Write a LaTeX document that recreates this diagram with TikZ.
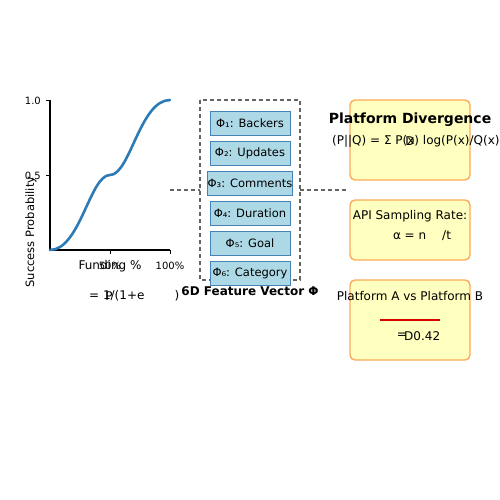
\documentclass[tikz,border=0pt]{standalone}
\usepackage{fontspec}
\setmainfont{DejaVu Sans}
\definecolor{curveblue}{RGB}{44,123,182}
\definecolor{featfill}{RGB}{173,216,230}
\definecolor{featedge}{RGB}{70,130,180}
\definecolor{boxfill}{RGB}{255,255,192}
\definecolor{boxedge}{RGB}{250,170,90}
\definecolor{dashgray}{RGB}{100,100,100}
\tikzset{
  feat/.style={draw=featedge, fill=featfill, line width=0.8pt, minimum width=80pt, minimum height=24pt, inner sep=0pt, font=\fontsize{11.5}{13}\selectfont},
  infobox/.style={draw=boxedge, fill=boxfill, line width=1.4pt, rounded corners=5pt},
  lbl/.style={font=\fontsize{12}{14}\selectfont, inner sep=0pt},
  tick/.style={font=\fontsize{10}{12}\selectfont, inner sep=0pt},
  dashline/.style={draw=dashgray, line width=1.1pt, dash pattern=on 4pt off 3pt}
}
\begin{document}
\begin{tikzpicture}[x=1pt,y=-1pt]
\useasboundingbox (0,0) rectangle (500,500);
% axes
\coordinate (ytop) at (50,100);
\coordinate (orig) at (50,250);
\coordinate (xend) at (170,250);
\draw[line width=1.3pt] (ytop) -- (orig) -- (xend);
\draw[line width=0.8pt] (110,250) -- (110,254);
\draw[line width=0.8pt] (170,250) -- (170,254);
\draw[line width=0.8pt] (50,100) -- (46,100);
\draw[line width=0.8pt] (50,175) -- (46,175);
\node[tick, anchor=east] (t10) at (41,101) {1.0};
\node[tick, anchor=east] (t05) at (41,176) {0.5};
\node[tick] (t50) at (110,266) {50\%};
\node[tick] (t100) at (170,266) {100\%};
\node[lbl] (xlab) at (110,266) {Funding \%};
\node[lbl, font=\fontsize{11.5}{13}\selectfont, rotate=90] (ylab) at (31,232) {Success Probability};
% curve
\coordinate (c0) at (50,250);
\coordinate (c1) at (110,175);
\coordinate (c2) at (170,100);
\draw[curveblue, line width=2.6pt, line cap=round] (c0) .. controls (80,250) and (90,175) .. (c1) .. controls (130,175) and (140,100) .. (c2);
% formula
\node[lbl, anchor=west] (form1) at (89,296) {= 1/(1+e};
\node[lbl] (formP) at (109,296) {P};
\node[lbl] (form2) at (177,296) {)};
% feature vector
\draw[dashline] (200,100) rectangle (300,280);
\node[feat] (f1) at (250,123) {Φ₁: Backers};
\node[feat] (f2) at (250,153) {Φ₂: Updates};
\node[feat] (f3) at (250,183) {Φ₃: Comments};
\node[feat] (f4) at (250,213) {Φ₄: Duration};
\node[feat] (f5) at (250,243) {Φ₅: Goal};
\node[feat] (f6) at (250,273) {Φ₆: Category};
\node[lbl, font=\bfseries\fontsize{12}{14}\selectfont] (fvec) at (250,291) {6D Feature Vector Φ};
% connectors
\coordinate (cl1) at (170,190);
\coordinate (cl2) at (200,190);
\coordinate (cr1) at (300,190);
\coordinate (cr2) at (346,190);
\draw[dashline] (cl1) -- (cl2);
\draw[dashline] (cr1) -- (cr2);
% right boxes
\draw[infobox] (350,100) rectangle (470,180);
\draw[infobox] (350,200) rectangle (470,260);
\draw[infobox] (350,280) rectangle (470,360);
\node[lbl, font=\bfseries\fontsize{14}{16}\selectfont] (pd) at (410,120) {Platform Divergence};
\node[lbl, anchor=west] (kl) at (332,141) {(P||Q) = Σ P(x) log(P(x)/Q(x))};
\node[lbl] (klD) at (410,141) {D};
\node[lbl] (api) at (410,216) {API Sampling Rate:};
\node[lbl] (alpha) at (422,236) {α = n\hspace{16pt}/t};
\node[lbl] (pab) at (410,296) {Platform A vs Platform B};
\coordinate (r1) at (380,320);
\coordinate (r2) at (440,320);
\draw[red!85!black, line width=1.4pt] (r1) -- (r2);
\node[lbl] (eqs) at (402,336) {=};
\node[lbl, anchor=west] (dval) at (404,336) {D0.42};
\end{tikzpicture}
\end{document}
